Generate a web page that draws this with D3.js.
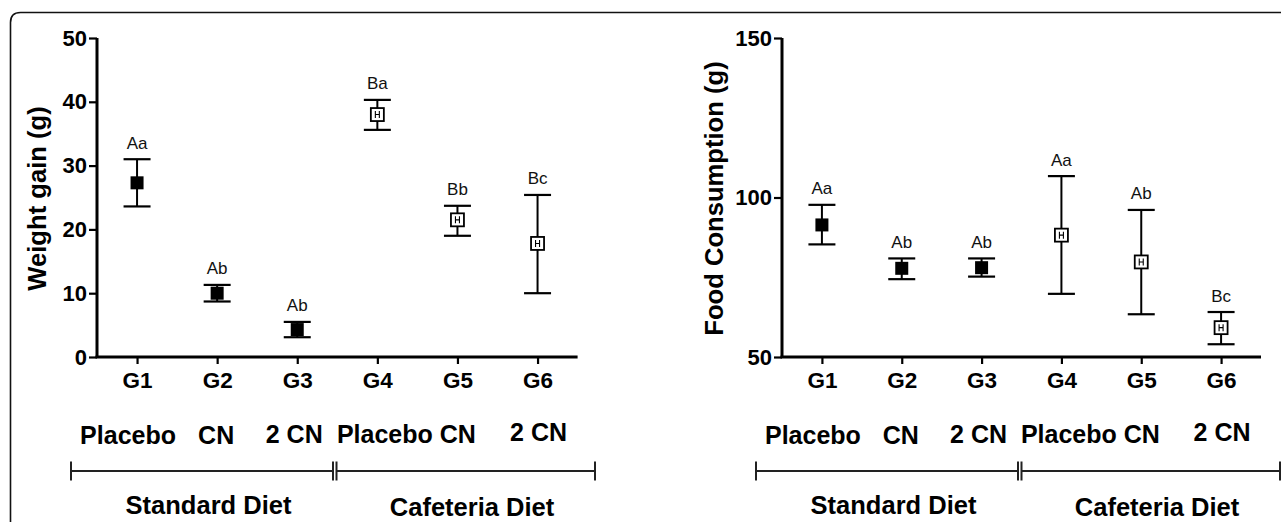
<!DOCTYPE html>
<html>
<head>
<meta charset="utf-8">
<script src="https://cdn.jsdelivr.net/npm/d3@7"></script>
<style>
  body { margin: 0; background: #fff; }
  svg { display: block; }
  text { font-family: "Liberation Sans", Arial, Helvetica, sans-serif; }
</style>
</head>
<body>
<svg id="chart" width="1281" height="522"></svg>
<script>
// Groups and diet assignment
const groups = ["G1", "G2", "G3", "G4", "G5", "G6"];
const filledGroups = [true, true, true, false, false, false];

// Weight gain (g): mean and error bar limits
const weightMean = [27.3, 10.0, 4.3, 38.0, 21.5, 17.8];
const weightLow  = [23.6, 8.7, 3.1, 35.6, 19.0, 10.0];
const weightHigh = [31.0, 11.3, 5.5, 40.3, 23.7, 25.4];
const weightLetters = ["Aa", "Ab", "Ab", "Ba", "Bb", "Bc"];
const weightTicks = [0, 10, 20, 30, 40, 50];

// Food consumption (g): mean and error bar limits
const foodMean = [91.4, 77.8, 78.0, 88.2, 79.8, 59.2];
const foodLow  = [85.3, 74.4, 75.2, 69.8, 63.4, 54.0];
const foodHigh = [97.7, 80.9, 80.9, 106.7, 96.1, 64.1];
const foodLetters = ["Aa", "Ab", "Ab", "Aa", "Ab", "Bc"];
const foodTicks = [50, 100, 150];

// Treatment and diet annotations under the x axis
const treatments = ["Placebo", "CN", "2 CN", "Placebo CN", "2 CN"];
const diets = ["Standard Diet", "Cafeteria Diet"];

const svg = d3.select("#chart");

// Frame with a rounded top-left corner
svg.append("path")
  .attr("d", "M10.5,530 L10.5,22.5 Q10.5,12.5 20.5,12.5 L1290,12.5")
  .attr("fill", "none").attr("stroke", "#111").attr("stroke-width", 1.6);

const panels = [
  { x0: 97, x1: 577.6, title: "Weight gain (g)", titleGap: 51, domain: [0, 50], ticks: weightTicks,
    mean: weightMean, low: weightLow, high: weightHigh, letters: weightLetters },
  { x0: 782, x1: 1261, title: "Food Consumption (g)", titleGap: 59.5, domain: [50, 150], ticks: foodTicks,
    mean: foodMean, low: foodLow, high: foodHigh, letters: foodLetters }
];

const yTop = 38, yBottom = 357;

panels.forEach(p => {
  const g = svg.append("g");
  const x = d3.scalePoint().domain(groups).range([p.x0, p.x1]).padding(0.5);
  const y = d3.scaleLinear().domain(p.domain).range([yBottom, yTop]);

  // Y axis
  const yAxis = g.append("g").attr("transform", `translate(${p.x0},0)`)
    .call(d3.axisLeft(y).tickValues(p.ticks).tickSize(8).tickPadding(2).tickFormat(d3.format("d")));
  yAxis.select(".domain").attr("d", `M0,${yTop}V${yBottom}`).attr("stroke", "#000").attr("stroke-width", 3);
  yAxis.selectAll(".tick line").attr("stroke", "#000").attr("stroke-width", 2.2);
  yAxis.selectAll(".tick text").attr("fill", "#000").attr("font-size", 22).attr("font-weight", "bold")
    .style("font-family", '"Liberation Sans", Arial, sans-serif');

  // X axis
  const xAxis = g.append("g").attr("transform", `translate(0,${yBottom})`)
    .call(d3.axisBottom(x).tickSize(7).tickPadding(8));
  xAxis.select(".domain").attr("d", `M${p.x0 - 1.5},0H${p.x1}`).attr("stroke", "#000").attr("stroke-width", 3);
  xAxis.selectAll(".tick line").attr("stroke", "#000").attr("stroke-width", 2.2);
  xAxis.selectAll(".tick text").attr("fill", "#000").attr("font-size", 22.5).attr("font-weight", "bold")
    .style("font-family", '"Liberation Sans", Arial, sans-serif');

  // Y axis title
  g.append("text")
    .attr("transform", `translate(${p.x0 - p.titleGap},${(yTop + yBottom) / 2 + 1}) rotate(-90)`)
    .attr("text-anchor", "middle").attr("font-size", 25.6).attr("font-weight", "bold")
    .attr("fill", "#000").text(p.title);

  // Error bars and markers
  const pts = groups.map((k, i) => ({ k, i, m: p.mean[i], lo: p.low[i], hi: p.high[i],
    filled: filledGroups[i], letter: p.letters[i] }));

  const capW = 27;
  const pt = g.selectAll("g.pt").data(pts).join("g").attr("class", "pt");
  pt.append("line")
    .attr("x1", d => x(d.k)).attr("x2", d => x(d.k))
    .attr("y1", d => y(d.hi)).attr("y2", d => y(d.lo))
    .attr("stroke", "#000").attr("stroke-width", 2);
  pt.append("line")
    .attr("x1", d => x(d.k) - capW / 2).attr("x2", d => x(d.k) + capW / 2)
    .attr("y1", d => y(d.hi)).attr("y2", d => y(d.hi))
    .attr("stroke", "#000").attr("stroke-width", 2.2);
  pt.append("line")
    .attr("x1", d => x(d.k) - capW / 2).attr("x2", d => x(d.k) + capW / 2)
    .attr("y1", d => y(d.lo)).attr("y2", d => y(d.lo))
    .attr("stroke", "#000").attr("stroke-width", 2.2);

  // Filled squares
  pt.filter(d => d.filled).append("rect")
    .attr("x", d => x(d.k) - 6.5).attr("y", d => y(d.m) - 6.5)
    .attr("width", 13).attr("height", 13).attr("fill", "#000");

  // Open squares with the error line visible inside
  const open = pt.filter(d => !d.filled);
  open.append("rect")
    .attr("x", d => x(d.k) - 6.5).attr("y", d => y(d.m) - 6.5)
    .attr("width", 13).attr("height", 13)
    .attr("fill", "#fff").attr("stroke", "#000").attr("stroke-width", 1.8);
  open.append("path")
    .attr("d", d => {
      const cx = x(d.k), cy = y(d.m);
      return `M${cx - 2},${cy - 3.5}V${cy + 3.5}M${cx + 2},${cy - 3.5}V${cy + 3.5}M${cx - 2},${cy}H${cx + 2}`;
    })
    .attr("fill", "none").attr("stroke", "#000").attr("stroke-width", 1.1);

  // Significance letters
  pt.append("text")
    .attr("x", d => x(d.k)).attr("y", d => y(d.hi) - 10.5)
    .attr("text-anchor", "middle").attr("font-size", 17).attr("fill", "#111")
    .text(d => d.letter);

  // Treatment labels
  const anchors = [
    { g: "G1", dx: -9, y: 444 }, { g: "G2", dx: -1, y: 444 }, { g: "G3", dx: -3, y: 443 },
    { g: "G4", dx: 29, y: 443 }, { g: "G6", dx: 1, y: 441 }
  ];
  g.selectAll("text.treat").data(treatments).join("text").attr("class", "treat")
    .attr("x", (t, i) => x(anchors[i].g) + anchors[i].dx)
    .attr("y", (t, i) => anchors[i].y)
    .attr("text-anchor", "middle").attr("font-size", 25).attr("font-weight", "bold").attr("fill", "#000")
    .text(t => t);

  // Diet brackets
  const by = 471, th = 9.5;
  const spans = [[p.x0 - 26, p.x0 + 236], [p.x0 + 239.5, p.x0 + 498]];
  spans.forEach(([a, b]) => {
    g.append("path")
      .attr("d", `M${a},${by}H${b}M${a},${by - th}V${by + th}M${b},${by - th}V${by + th}`)
      .attr("fill", "none").attr("stroke", "#222").attr("stroke-width", 2);
  });
  const dietX = [p.x0 + 111.5, p.x0 + 375];
  const dietY = [514, 516];
  g.selectAll("text.diet").data(diets).join("text").attr("class", "diet")
    .attr("x", (t, i) => dietX[i]).attr("y", (t, i) => dietY[i])
    .attr("text-anchor", "middle").attr("font-size", 25.5).attr("font-weight", "bold").attr("fill", "#000")
    .text(t => t);
});
</script>
</body>
</html>
